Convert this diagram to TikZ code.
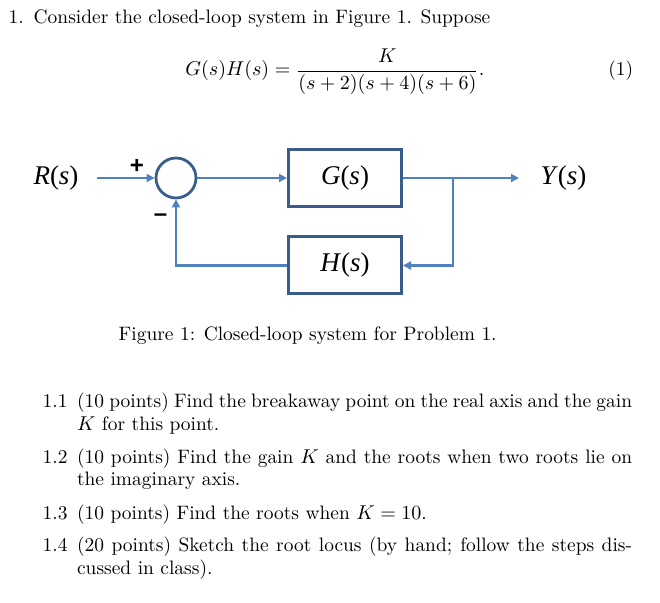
\documentclass[tikz,border=0pt]{standalone}
\usepackage{amssymb, amsmath}
\usepackage{fontspec}
\newfontfamily\blockfont{Liberation Serif}
\newfontfamily\signfont{Liberation Sans}
\usetikzlibrary{arrows.meta, calc}
\definecolor{linkblue}{RGB}{79,129,189}
\definecolor{boxblue}{RGB}{56,93,138}
\newcommand{\blocktext}[1]{{\blockfont\fontsize{13.5}{16}\selectfont\textit{#1}(\textit{s})}}
\newcommand{\fullline}[1]{\makebox[277.5pt][s]{#1}}

\begin{document}
\fontsize{9.72}{11.6}\selectfont
\begin{tikzpicture}[x=0.5pt, y=-0.5pt]
      \tikzset{block/.style={draw=boxblue,
          line width=1.5pt,
          minimum width=56.5pt,
          minimum height=28.5pt,
          inner sep=0pt},
        sum point/.style={circle, draw=boxblue, line width=1.4pt,
          minimum size=20pt, inner sep=0pt},
        signal/.style={draw=linkblue, line width=1.35pt},
        arrowed/.style={-{Triangle[length=4pt,width=4pt]}},
        sign/.style={font=\signfont\bfseries\fontsize{12}{14}\selectfont, inner sep=0pt}
      }
      \useasboundingbox (0,0) rectangle (660,603);
      % problem statement
      \node [anchor=base west, inner sep=0pt] (num) at (8.3,23.5) {1.};
      \node [anchor=base west, inner sep=0pt] (intro) at (33.3,23.5) {Consider the closed-loop system in Figure 1. Suppose};
      \node [anchor=base west, inner sep=0pt] (eq) at (185,76)
        {$\displaystyle G(s)H(s)=\frac{K}{(s+2)(s+4)(s+6)}.$};
      \node [anchor=base west, inner sep=0pt] (eqnum) at (608,76) {(1)};
      % block diagram
      \node (R) at (56,178) {\blocktext{R}};
      \node [sum point] (sum) at (176,178) {};
      \node [block] (G) at (345,178) {\blocktext{G}};
      \node [block] (H) at (345,265.5) {\blocktext{H}};
      \node (Y) at (563.5,178) {\blocktext{Y}};
      \coordinate (in) at (97,178);
      \coordinate (out) at (519,178);
      \coordinate (branch) at (453,178);
      \draw [signal, arrowed] (in)--(sum.west);
      \draw [signal, arrowed] (sum.east)--(G.west);
      \draw [signal, arrowed] (G.east)--(out);
      \draw [signal, arrowed] (branch) |- (H.east);
      \draw [signal, arrowed] (H.west) -| (sum.south);
      \node [sign] (plus) at (137,166) {+};
      \node [sign] (minus) at (160.5,218) {\textendash};
      \node [anchor=base west, inner sep=0pt] (caption) at (118.3,340.7)
        {Figure 1: Closed-loop system for Problem 1.};
      % questions
      \node [anchor=base west, inner sep=0pt] (q1) at (42.3,407.7) {1.1};
      \node [anchor=base west, inner sep=0pt] at (76.7,407.7)
        {\fullline{(10 points) Find the breakaway point on the real axis and the gain}};
      \node [anchor=base west, inner sep=0pt] at (76.7,430.7) {$K$ for this point.};
      \node [anchor=base west, inner sep=0pt] (q2) at (42.3,463.3) {1.2};
      \node [anchor=base west, inner sep=0pt] at (76.7,463.3)
        {\fullline{(10 points) Find the gain $K$ and the roots when two roots lie on}};
      \node [anchor=base west, inner sep=0pt] at (76.7,486) {the imaginary axis.};
      \node [anchor=base west, inner sep=0pt] (q3) at (42.3,519.3) {1.3};
      \node [anchor=base west, inner sep=0pt] at (76.7,519.3) {(10 points) Find the roots when $K=10$.};
      \node [anchor=base west, inner sep=0pt] (q4) at (42.3,551.7) {1.4};
      \node [anchor=base west, inner sep=0pt] at (76.7,551.7)
        {\fullline{(20 points) Sketch the root locus (by hand; follow the steps dis-}};
      \node [anchor=base west, inner sep=0pt] at (76.7,574.3) {cussed in class).};
\end{tikzpicture}
\end{document}
